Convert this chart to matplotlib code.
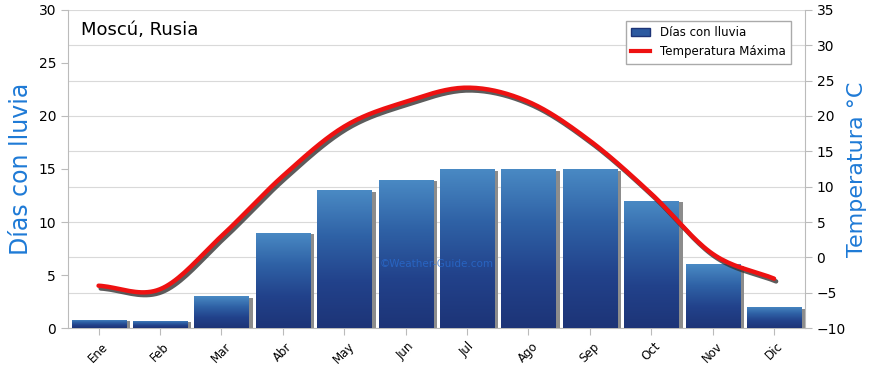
import numpy as np
import matplotlib
matplotlib.use("Agg")
import matplotlib.pyplot as plt
import matplotlib.patheffects as pe
from matplotlib.patches import Rectangle

months = ["Ene", "Feb", "Mar", "Abr", "May", "Jun", "Jul", "Ago", "Sep", "Oct", "Nov", "Dic"]
rain_days = [0.8, 0.7, 3, 9, 13, 14, 15, 15, 15, 12, 6, 2]
temp_max = [-4, -4.5, 3, 11.5, 18.5, 22, 24, 22, 16.5, 9, 0.5, -3]
right_ticks = list(range(-10, 36, 5))


def catmull_rom(x, y, n=20):
    # smooth curve through the monthly points
    x = np.asarray(x, float)
    y = np.asarray(y, float)
    px = np.concatenate([[2 * x[0] - x[1]], x, [2 * x[-1] - x[-2]]])
    py = np.concatenate([[2 * y[0] - y[1]], y, [2 * y[-1] - y[-2]]])
    xs, ys = [], []
    t = np.linspace(0, 1, n, endpoint=False)
    for i in range(1, len(px) - 2):
        for arr, out in ((px, xs), (py, ys)):
            p0, p1, p2, p3 = arr[i - 1], arr[i], arr[i + 1], arr[i + 2]
            out.extend(0.5 * (2 * p1 + (-p0 + p2) * t
                              + (2 * p0 - 5 * p1 + 4 * p2 - p3) * t ** 2
                              + (-p0 + 3 * p1 - 3 * p2 + p3) * t ** 3))
    xs.append(x[-1])
    ys.append(y[-1])
    return np.array(xs), np.array(ys)


fig = plt.figure(figsize=(8.7, 3.65), dpi=100)
ax = fig.add_axes([0.078, 0.101, 0.847, 0.872])
ax2 = ax.twinx()

x = np.arange(len(months))
width = 0.88

# grid follows the right axis ticks, drawn on the bar axes so it stays behind bars
for g in right_ticks:
    ax.axhline((g + 10) * 30 / 45, color="#d9d9d9", lw=0.8, zorder=0)

# gradient bars with grey shadow
grad = np.linspace(0, 1, 256).reshape(-1, 1)
cmap = matplotlib.colors.LinearSegmentedColormap.from_list(
    "bar", ["#1d3477", "#22428b", "#2f62a6", "#4a8ac4"])
for xi, v in zip(x, rain_days):
    ax.add_patch(Rectangle((xi - width / 2 + 0.07, 0), width, v - 0.15,
                           facecolor="#8c8c8c", edgecolor="none", zorder=2))
    rect = Rectangle((xi - width / 2, 0), width, v, facecolor="none",
                     edgecolor="none", zorder=3)
    ax.add_patch(rect)
    im = ax.imshow(grad, extent=(xi - width / 2, xi + width / 2, 0, v),
                   origin="lower", aspect="auto", cmap=cmap, zorder=3)
    im.set_clip_path(rect)
ax.set_aspect("auto")
ax.set_xlim(-0.5, len(months) - 0.5)
ax.set_ylim(0, 30)
ax2.set_ylim(-10, 35)

sx, sy = catmull_rom(x, temp_max)
ax2.plot(sx, sy, color="#ee1111", lw=3.2, solid_capstyle="round",
         path_effects=[pe.SimpleLineShadow(offset=(1.5, -2), shadow_color="#333333", alpha=0.8),
                       pe.Normal()], zorder=5)

ax.set_xticks(x)
ax.set_xticklabels(months, rotation=45, fontsize=8.5)
ax.set_yticks(range(0, 31, 5))
ax2.set_yticks(right_ticks)
ax.tick_params(axis="y", labelsize=10, length=5, color="#bbbbbb")
ax2.tick_params(axis="y", labelsize=10, length=5, color="#bbbbbb")
ax.tick_params(axis="x", length=5, color="#bbbbbb")
for a in (ax, ax2):
    for s in a.spines.values():
        s.set_visible(False)
ax.spines["left"].set_visible(True)
ax.spines["left"].set_color("#bbbbbb")
ax2.spines["right"].set_visible(True)
ax2.spines["right"].set_color("#bbbbbb")
ax.spines["bottom"].set_visible(True)
ax.spines["bottom"].set_color("#bbbbbb")

ax.set_ylabel("Días con lluvia", color="#1e7ad6", fontsize=17, labelpad=4)
ax2.set_ylabel("Temperatura °C", color="#1e7ad6", fontsize=16, labelpad=1)

ax.text(0.018, 0.965, "Moscú, Rusia", transform=ax.transAxes, fontsize=13,
        va="top", ha="left", zorder=6)
ax.text(0.5, 0.2, "©Weather-Guide.com", transform=ax.transAxes, fontsize=7.5,
        color="#2a6fd6", alpha=0.7, ha="center", va="center", zorder=6)

handles = [Rectangle((0, 0), 1, 1, facecolor="#2c5aa0", edgecolor="#1d3477"),
           plt.Line2D([0], [0], color="#ee1111", lw=3)]
ax2.legend(handles, ["Días con lluvia", "Temperatura Máxima"], loc="upper right",
           fontsize=8.5, fancybox=False, edgecolor="#aaaaaa", framealpha=1,
           bbox_to_anchor=(0.99, 0.985), handlelength=1.6, borderpad=0.5)

fig.savefig("out.png", dpi=100)
